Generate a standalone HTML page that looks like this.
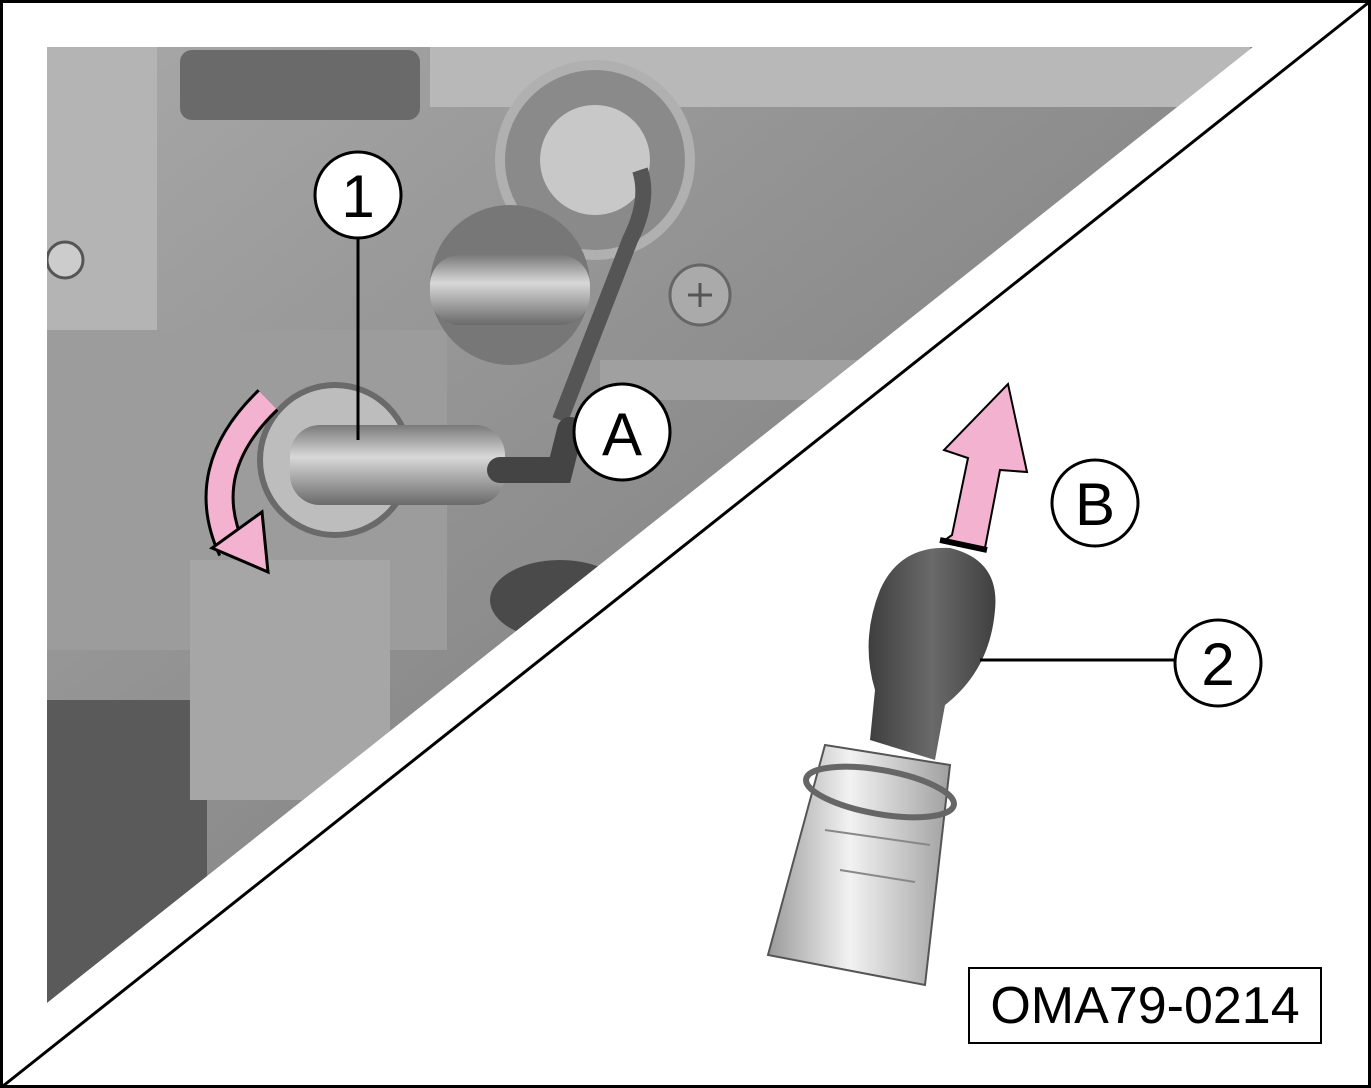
<!DOCTYPE html>
<html><head><meta charset="utf-8"><style>
html,body{margin:0;padding:0;background:#fff;}
svg{display:block;}
text{font-family:"Liberation Sans",sans-serif;}
</style></head><body>
<svg width="1371" height="1088" viewBox="0 0 1371 1088" xmlns="http://www.w3.org/2000/svg">
<defs>
<linearGradient id="g1" x1="0" y1="0" x2="1" y2="1">
<stop offset="0" stop-color="#a8a8a8"/><stop offset="0.5" stop-color="#8c8c8c"/><stop offset="1" stop-color="#6e6e6e"/>
</linearGradient>
<linearGradient id="cyl" x1="0" y1="0" x2="0" y2="1">
<stop offset="0" stop-color="#7a7a7a"/><stop offset="0.4" stop-color="#d8d8d8"/><stop offset="1" stop-color="#6a6a6a"/>
</linearGradient>
<linearGradient id="bulb" x1="0" y1="0" x2="1" y2="0">
<stop offset="0" stop-color="#9a9a9a"/><stop offset="0.45" stop-color="#f2f2f2"/><stop offset="1" stop-color="#a0a0a0"/>
</linearGradient>
<linearGradient id="rub" x1="0" y1="0" x2="1" y2="0">
<stop offset="0" stop-color="#3e3e3e"/><stop offset="0.5" stop-color="#6a6a6a"/><stop offset="1" stop-color="#404040"/>
</linearGradient>
<clipPath id="tri"><polygon points="47,47 1253,47 47,1003"/></clipPath>
</defs>
<rect x="1.5" y="1.5" width="1368" height="1085" fill="#fff" stroke="#000" stroke-width="3"/>
<g clip-path="url(#tri)">
<rect x="47" y="47" width="1206" height="956" fill="url(#g1)"/>
<rect x="47" y="47" width="110" height="600" fill="#b4b4b4"/>
<rect x="180" y="50" width="240" height="70" rx="12" fill="#6a6a6a"/>
<rect x="430" y="47" width="820" height="60" fill="#b8b8b8"/>
<rect x="47" y="330" width="400" height="320" fill="#9c9c9c"/>
<rect x="47" y="700" width="160" height="310" fill="#5a5a5a"/>
<rect x="190" y="560" width="200" height="240" fill="#a6a6a6"/>
<ellipse cx="560" cy="600" rx="70" ry="40" fill="#4a4a4a"/>
<rect x="600" y="360" width="700" height="40" fill="#a0a0a0"/>
<circle cx="595" cy="160" r="95" fill="#8a8a8a" stroke="#b0b0b0" stroke-width="10"/>
<circle cx="595" cy="160" r="55" fill="#c8c8c8"/>
<circle cx="510" cy="285" r="80" fill="#777"/>
<rect x="430" y="255" width="160" height="70" rx="30" fill="url(#cyl)"/>
<circle cx="700" cy="295" r="30" fill="#aaa" stroke="#666" stroke-width="3"/>
<path d="M688,295 h24 M700,283 v24" stroke="#555" stroke-width="3"/>
<path d="M640,170 Q650,200 630,240 L560,420" stroke="#555" stroke-width="16" fill="none"/>
<circle cx="335" cy="460" r="75" fill="#bdbdbd" stroke="#6a6a6a" stroke-width="6"/>
<rect x="290" y="425" width="215" height="80" rx="30" fill="url(#cyl)"/>
<path d="M500,470 L560,470 L570,430" stroke="#444" stroke-width="26" fill="none" stroke-linecap="round"/>
<circle cx="65" cy="260" r="18" fill="#ccc" stroke="#555" stroke-width="3"/>
</g>
<polygon points="1253,47 47,1003 47,1010 1260,47" fill="#fff"/>
<line x1="1368" y1="3" x2="3" y2="1086" stroke="#000" stroke-width="3"/>
<path d="M268,400 Q195,470 232,550" stroke="#000" stroke-width="30" fill="none"/>
<path d="M268,400 Q195,470 232,550" stroke="#f3b2cf" stroke-width="24" fill="none"/>
<polygon points="212,548 268,572 262,512" fill="#f3b2cf" stroke="#000" stroke-width="3"/>
<line x1="358" y1="230" x2="358" y2="440" stroke="#000" stroke-width="3"/>
<circle cx="358" cy="195" r="43" fill="#fff" stroke="#000" stroke-width="3"/>
<text x="358" y="217" font-size="60" text-anchor="middle">1</text>
<circle cx="622" cy="432" r="48" fill="#fff" stroke="#000" stroke-width="3"/>
<text x="622" y="455" font-size="60" text-anchor="middle">A</text>
<polygon points="945,540 985,548 1000,470 1027,472 1008,384 944,450 968,458 952,535" fill="#f3b2cf" stroke="#000" stroke-width="2"/>
<line x1="940" y1="540" x2="987" y2="550" stroke="#000" stroke-width="6"/>
<circle cx="1095" cy="503" r="43" fill="#fff" stroke="#000" stroke-width="3"/>
<text x="1095" y="525" font-size="60" text-anchor="middle">B</text>
<path d="M825,745 L950,765 L925,985 L768,955 Z" fill="url(#bulb)" stroke="#555" stroke-width="2"/>
<ellipse cx="880" cy="792" rx="75" ry="22" transform="rotate(10 880 792)" fill="none" stroke="#666" stroke-width="6"/>
<path d="M840,870 L915,882 M825,830 L930,845" stroke="#888" stroke-width="2"/>
<path d="M870,740 L875,690 Q860,640 880,590 Q900,545 950,548 Q1000,560 995,610 Q990,670 945,705 L935,760 Z" fill="url(#rub)"/>
<line x1="980" y1="660" x2="1175" y2="660" stroke="#000" stroke-width="3"/>
<circle cx="1218" cy="663" r="43" fill="#fff" stroke="#000" stroke-width="3"/>
<text x="1218" y="685" font-size="60" text-anchor="middle">2</text>
<rect x="969" y="968" width="352" height="75" fill="#fff" stroke="#000" stroke-width="2"/>
<text x="1145" y="1023" font-size="52" text-anchor="middle">OMA79-0214</text>
</svg>
</body></html>
